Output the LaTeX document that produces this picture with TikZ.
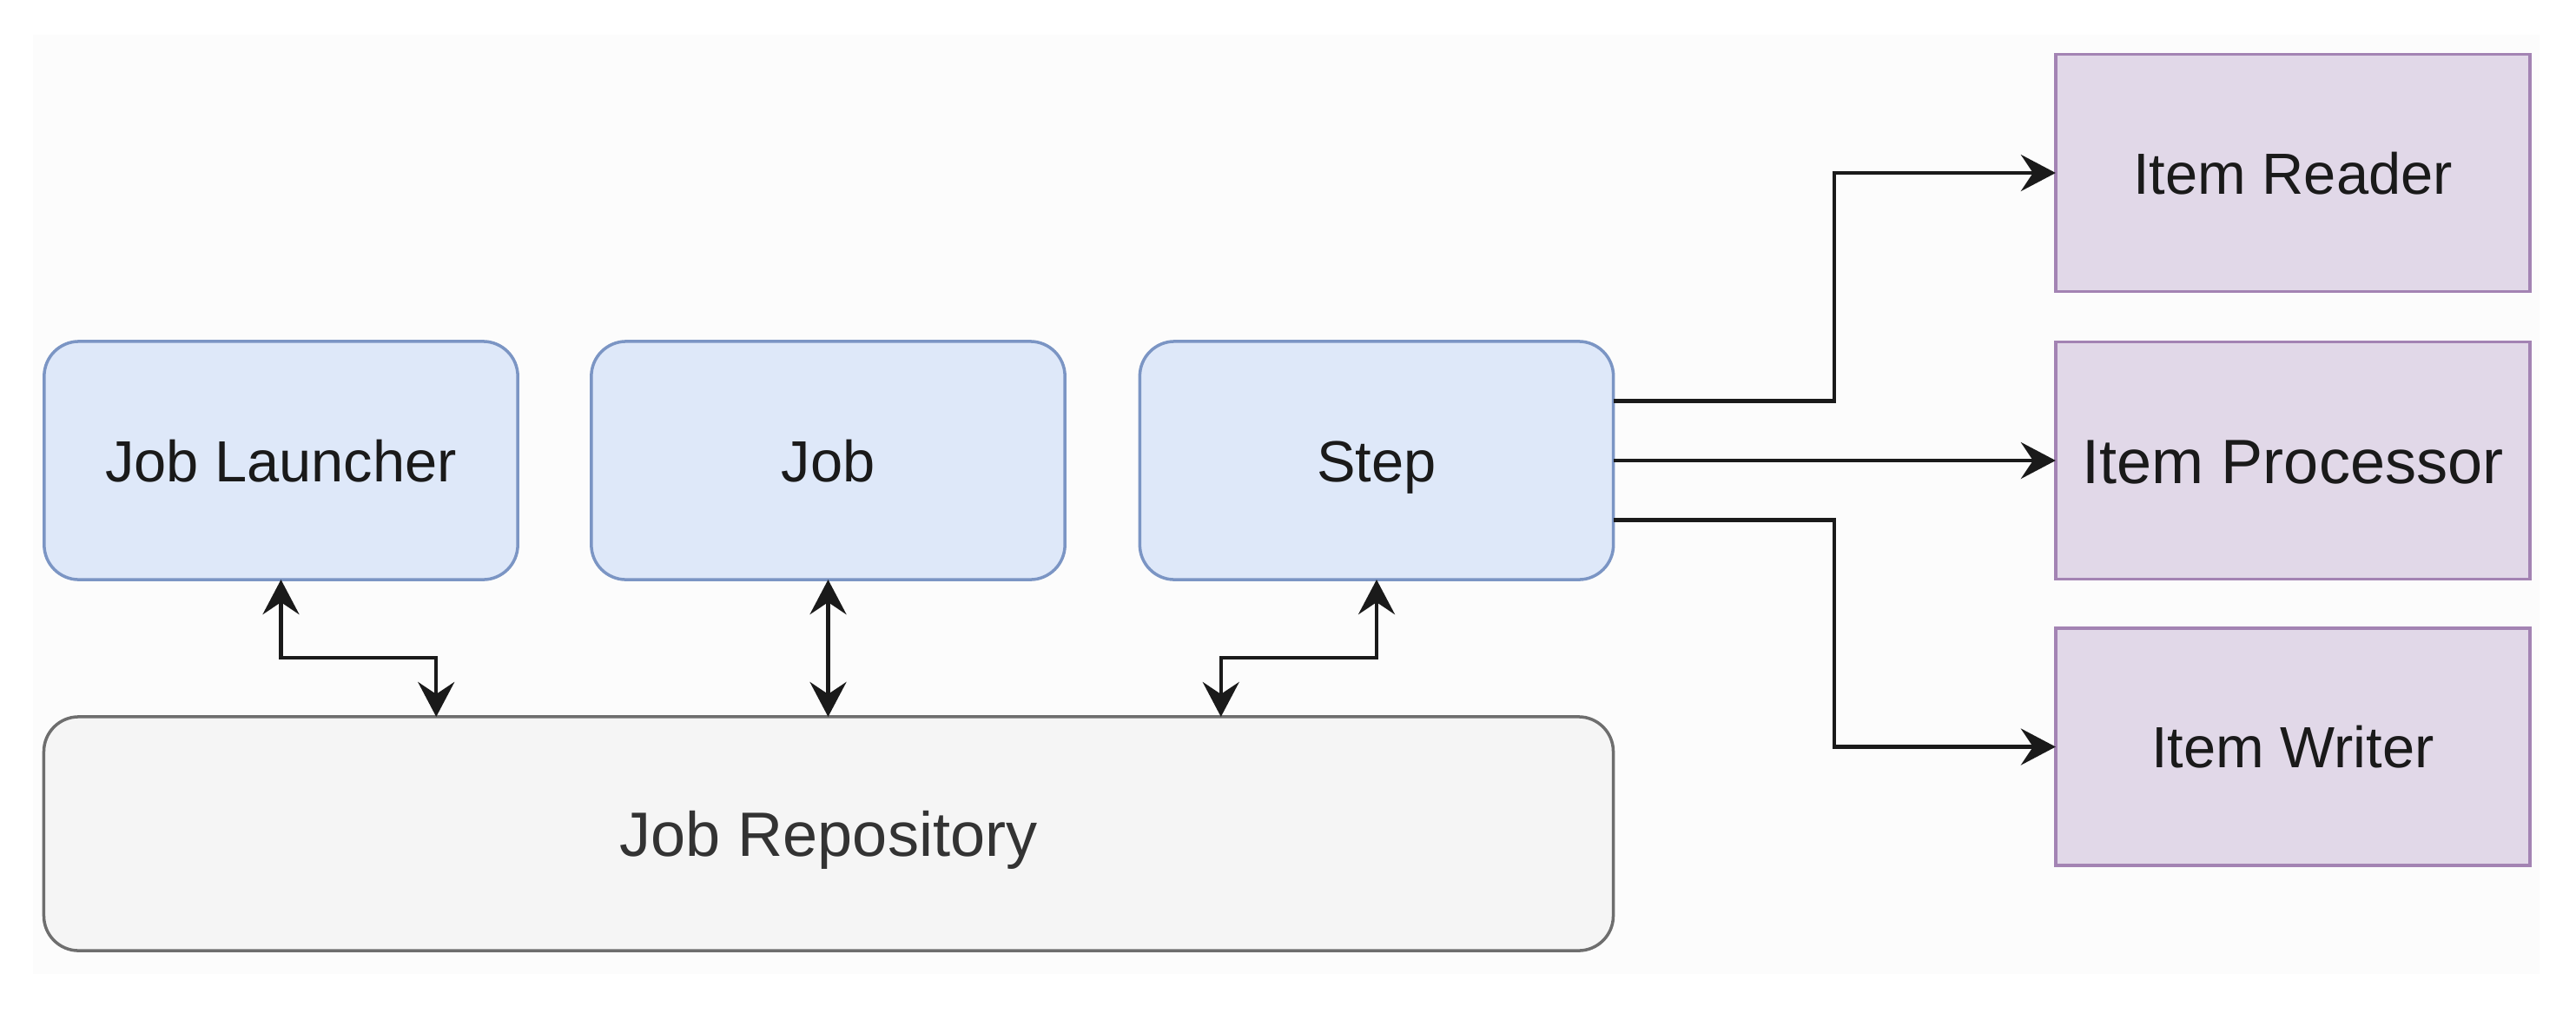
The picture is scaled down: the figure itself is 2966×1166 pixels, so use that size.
\documentclass[tikz,border=0pt]{standalone}
\usepackage{fontspec}
\setmainfont{Liberation Sans}
\usetikzlibrary{arrows.meta,calc}
\definecolor{bluefill}{HTML}{DEE8F9}
\definecolor{bluedraw}{HTML}{7B95C4}
\definecolor{purpfill}{HTML}{E1D8E8}
\definecolor{purpdraw}{HTML}{A383B3}
\definecolor{grayfill}{HTML}{F5F5F5}
\definecolor{graydraw}{HTML}{6E6E6E}
\definecolor{ink}{HTML}{1A1A1A}
\definecolor{bgc}{HTML}{FCFCFC}
\tikzset{
  box/.style={rectangle, inner sep=0pt, outer sep=0pt, line width=1pt, align=center, text=ink,
    font=\fontsize{19}{23}\selectfont, text height=0.48cm, text depth=0pt},
  bigtext/.style={font=\fontsize{20.5}{24}\selectfont, text height=0.52cm},
  bluebox/.style={box, draw=bluedraw, fill=bluefill, rounded corners=0.4cm,
    minimum width=5.45cm, minimum height=2.74cm},
  purpbox/.style={box, draw=purpdraw, fill=purpfill,
    minimum width=5.46cm, minimum height=2.73cm},
  graybox/.style={box, draw=graydraw, fill=grayfill, rounded corners=0.4cm, text=black!80,
    minimum width=18.06cm, minimum height=2.69cm, bigtext},
  conn/.style={draw=ink, line width=1.2pt,
    arrows={-Stealth[length=0.4cm, width=0.42cm, inset=0.14cm]}},
  biconn/.style={draw=ink, line width=1.2pt,
    arrows={Stealth[length=0.4cm, width=0.42cm, inset=0.14cm]-Stealth[length=0.4cm, width=0.42cm, inset=0.14cm]}}
}
\begin{document}
\begin{tikzpicture}[x=0.01cm, y=-0.01cm]
\useasboundingbox (0,0) rectangle (2966,1166);
\fill[bgc] (38,40) rectangle (2924,1121);

\node[bluebox] (launcher) at (323.5,530) {Job Launcher};
\node[bluebox] (job) at (953.5,530) {Job};
\node[bluebox] (step) at (1585,530) {Step};
\node[graybox] (repo) at (954,959.5) {Job Repository};
\node[purpbox] (reader) at (2640,199) {Item Reader};
\node[purpbox, bigtext] (proc) at (2640,530) {Item Processor};
\node[purpbox] (writer) at (2640,859.5) {Item Writer};

\coordinate (bx) at (2112,0);
\coordinate (jy) at (0,757);
\coordinate (s1) at ($(step.north east)!0.25!(step.south east)$);
\coordinate (s3) at ($(step.north east)!0.75!(step.south east)$);
\coordinate (r1) at ($(repo.north west)!0.25!(repo.north east)$);
\coordinate (r3) at ($(repo.north west)!0.75!(repo.north east)$);

\draw[conn] (s1) -- (s1 -| bx) |- (reader.west);
\draw[conn] (step.east) -- (proc.west);
\draw[conn] (s3) -- (s3 -| bx) |- (writer.west);

\draw[biconn] (launcher.south) -- (launcher.south |- jy) -| (r1);
\draw[biconn] (job.south) -- (job.south |- repo.north);
\draw[biconn] (step.south) -- (step.south |- jy) -| (r3);
\end{tikzpicture}
\end{document}
